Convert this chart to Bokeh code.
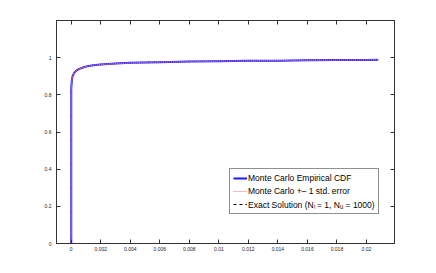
from bokeh.plotting import figure
from bokeh.models import Range1d, LinearAxis, FixedTicker, Legend, LegendItem, CustomLabelingPolicy
from bokeh.embed import file_html
from bokeh.resources import INLINE

# CDF data
x_vals = [0.0, 0.0, 0.00002, 0.00005, 0.0001, 0.0002, 0.0003, 0.0005, 0.0008, 0.001,
          0.0015, 0.002, 0.003, 0.004, 0.005, 0.006, 0.008, 0.010, 0.012, 0.014,
          0.016, 0.018, 0.020, 0.0208]
cdf_mc = [0.0, 0.83, 0.86, 0.885, 0.903, 0.918, 0.928, 0.938, 0.947, 0.952,
          0.959, 0.963, 0.968, 0.972, 0.974, 0.976, 0.979, 0.981, 0.983, 0.984,
          0.986, 0.987, 0.988, 0.989]
std_err = [0.0, 0.002, 0.002, 0.002, 0.0015, 0.0015, 0.0015, 0.0015, 0.0015, 0.0015,
           0.001, 0.001, 0.001, 0.001, 0.001, 0.001, 0.001, 0.001, 0.001, 0.001,
           0.001, 0.001, 0.001, 0.001]
cdf_exact = [0.0, 0.83, 0.861, 0.886, 0.904, 0.919, 0.929, 0.939, 0.947, 0.952,
             0.959, 0.964, 0.969, 0.972, 0.975, 0.977, 0.979, 0.981, 0.983, 0.984,
             0.986, 0.987, 0.988, 0.989]

x_ticks = [0, 0.002, 0.004, 0.006, 0.008, 0.01, 0.012, 0.014, 0.016, 0.018, 0.02]
x_tick_labels = ["0", "0.002", "0.004", "0.006", "0.008", "0.01", "0.012", "0.014", "0.016", "0.018", "0.02"]
y_ticks = [0, 0.2, 0.4, 0.6, 0.8, 1.0]
y_tick_labels = ["0", "0.2", "0.4", "0.6", "0.8", "1"]

labels = ["Monte Carlo Empirical CDF", "Monte Carlo +\u2013 1 std. error",
          "Exact Solution (N\u2097 = 1, N\u1d64 = 1000)"]

upper = [c + e for c, e in zip(cdf_mc, std_err)]
lower = [c - e for c, e in zip(cdf_mc, std_err)]

p = figure(width=428, height=265, output_backend="svg", toolbar_location=None,
           x_range=Range1d(-0.001, 0.0219), y_range=Range1d(0, 1.2),
           min_border_left=56, min_border_right=34, min_border_top=20, min_border_bottom=22)
p.xgrid.visible = False
p.ygrid.visible = False
p.outline_line_color = "#333333"
p.background_fill_color = "white"

r_exact = p.line(x_vals, cdf_exact, line_color="black", line_width=1, line_dash="3 3")
r_mc = p.line(x_vals, cdf_mc, line_color="#1a1aff", line_width=2)
r_up = p.line(x_vals, upper, line_color="#ff7070", line_width=1, line_dash="1 1")
r_lo = p.line(x_vals, lower, line_color="#ff7070", line_width=1, line_dash="1 1")

def style_axis(ax, show_labels):
    ax.major_tick_in = 4
    ax.major_tick_out = 0
    ax.minor_tick_in = 0
    ax.minor_tick_out = 0
    ax.axis_line_color = "#333333"
    ax.major_tick_line_color = "#333333"
    ax.major_label_text_font = "Liberation Sans"
    ax.major_label_text_color = "#222222"
    ax.major_label_text_font_size = "5px"
    if not show_labels:
        ax.major_label_standoff = 0
        ax.major_label_policy = CustomLabelingPolicy(
            code="for (const i of Array.from(indices)) { indices.unset(i) } return indices")

xt = FixedTicker(ticks=x_ticks)
yt = FixedTicker(ticks=y_ticks)
p.xaxis.ticker = xt
p.yaxis.ticker = yt
p.xaxis.major_label_overrides = {t: l for t, l in zip(x_ticks, x_tick_labels)}
p.yaxis.major_label_overrides = {t: l for t, l in zip(y_ticks, y_tick_labels)}
style_axis(p.xaxis[0], True)
style_axis(p.yaxis[0], True)
p.xaxis.major_label_standoff = 3
p.yaxis.major_label_standoff = 5

top_ax = LinearAxis(ticker=FixedTicker(ticks=x_ticks))
right_ax = LinearAxis(ticker=FixedTicker(ticks=y_ticks))
style_axis(top_ax, False)
style_axis(right_ax, False)
p.add_layout(top_ax, "above")
p.add_layout(right_ax, "right")

legend = Legend(items=[
    LegendItem(label=labels[0], renderers=[r_mc]),
    LegendItem(label=labels[1], renderers=[r_up]),
    LegendItem(label=labels[2], renderers=[r_exact]),
], location=(173, 29))
legend.label_text_font = "Liberation Sans"
legend.label_text_font_size = "8.5px"
legend.label_text_color = "black"
legend.label_standoff = 1
legend.label_height = 12
legend.glyph_height = 12
legend.glyph_width = 14
legend.spacing = 1
legend.padding = 3
legend.margin = 0
legend.border_line_color = "#222222"
legend.border_line_width = 1
legend.background_fill_color = "white"
legend.background_fill_alpha = 1
p.add_layout(legend, "center")

open("out.html", "w").write(file_html(p, INLINE))
